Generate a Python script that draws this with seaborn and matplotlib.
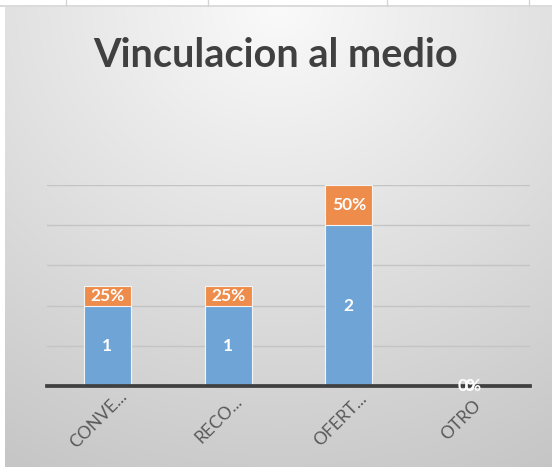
import numpy as np
import pandas as pd
import seaborn as sns
import matplotlib.pyplot as plt
from matplotlib.lines import Line2D
from matplotlib.transforms import ScaledTranslation

categorias = ["CONVE...", "RECO...", "OFERT...", "OTRO"]
cantidad = [1, 1, 2, 0]
porcentaje = [0.25, 0.25, 0.5, 0.0]

df = pd.DataFrame({"cat": categorias, "n": cantidad, "pct": porcentaje})
df["total"] = df["n"] + df["pct"]

sns.set_style("white")
plt.rcParams["font.family"] = ["Lato", "DejaVu Sans"]

fig = plt.figure(figsize=(5.52, 4.67), dpi=100)
W, H = 552, 467

# fondo degradado del area del grafico
bg = fig.add_axes([5 / W, 0, (W - 5) / W, (H - 7) / H], zorder=0)
gx, gy = np.meshgrid(np.linspace(0, 1, 300), np.linspace(0, 1, 300))
d = np.sqrt(((gx - 0.5) * 1.0) ** 2 + (gy - 0.0) ** 2 * 0.85)
val = 250 - 50 * np.clip(d, 0, 1.05)
img = np.dstack([val, val, val]) / 255
bg.imshow(img, aspect="auto", extent=[0, 1, 0, 1], origin="upper")
bg.set_axis_off()

# franja de hoja de calculo arriba
fig.add_artist(Line2D([0, 1], [1 - 6 / H, 1 - 6 / H], color="#d4d4d4", lw=1.2))
for xv in [66, 208, 387, 529]:
    fig.add_artist(Line2D([xv / W, xv / W], [1 - 6 / H, 1], color="#d4d4d4", lw=1))

ax = fig.add_axes([47 / W, 1 - 386 / H, (530 - 47) / W, (386 - 185) / H], zorder=1)
ax.set_facecolor("none")

sns.barplot(data=df, x="cat", y="total", color="#ee8c4c", width=0.39,
            edgecolor="#f4f4f4", linewidth=0.8, saturation=1, ax=ax)
sns.barplot(data=df, x="cat", y="n", color="#6fa4d7", width=0.39,
            edgecolor="#f4f4f4", linewidth=0.8, saturation=1, ax=ax)

ax.set_xlim(-0.5, 3.5)
ax.set_ylim(0, 2.5)
ax.set_yticks(np.arange(0, 2.51, 0.5))
ax.set_yticklabels([])
ax.tick_params(axis="y", length=0)
ax.tick_params(axis="x", length=0, pad=0)
ax.yaxis.grid(True, color="#c4c4c4", lw=1)
ax.set_axisbelow(True)
for s in ["top", "right", "left"]:
    ax.spines[s].set_visible(False)
ax.spines["bottom"].set_color("#404040")
ax.spines["bottom"].set_linewidth(2.7)
ax.spines["bottom"].set_zorder(3)
ax.set_xlabel("")
ax.set_ylabel("")

offset = ScaledTranslation(-9 / 100, -34 / 100, fig.dpi_scale_trans)
for lab in ax.get_xticklabels():
    lab.set_rotation(45)
    lab.set_rotation_mode("anchor")
    lab.set_ha("center")
    lab.set_va("center")
    lab.set_fontsize(12.5)
    lab.set_color("#595959")
    lab.set_y(0)
    lab.set_transform(ax.get_xaxis_transform() + offset)

# etiquetas de datos
for i, row in df.iterrows():
    ax.text(i, row["n"] / 2, f"{row['n']}", ha="center", va="center",
            color="white", fontsize=12.5, fontweight="bold", zorder=4)
    ax.text(i, row["n"] + row["pct"] / 2, f"{row['pct']:.0%}", ha="center",
            va="center", color="white", fontsize=12.5, fontweight="bold", zorder=4)

fig.text(0.5, 1 - 67 / H, "Vinculacion al medio", ha="center", va="baseline",
         fontsize=28.5, fontweight="bold", color="#404040")

fig.savefig("out.png", dpi=100)
